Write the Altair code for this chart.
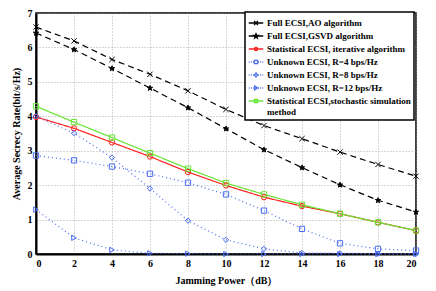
import altair as alt
import pandas as pd

x_vals = [0, 2, 4, 6, 8, 10, 12, 14, 16, 18, 20]
ao = [6.59, 6.19, 5.65, 5.22, 4.74, 4.20, 3.73, 3.35, 2.96, 2.60, 2.26]
gsvd = [6.42, 5.94, 5.39, 4.82, 4.25, 3.64, 3.03, 2.51, 2.01, 1.56, 1.22]
stat_iter = [3.98, 3.65, 3.24, 2.83, 2.38, 1.99, 1.65, 1.39, 1.17, 0.92, 0.68]
r4 = [2.86, 2.72, 2.54, 2.33, 2.07, 1.73, 1.26, 0.73, 0.31, 0.15, 0.10]
r8 = [4.00, 3.51, 2.80, 1.90, 0.97, 0.41, 0.15, 0.03, 0.02, 0.01, 0.00]
r12 = [1.29, 0.47, 0.12, 0.02, 0.01, 0.0, 0.0, 0.0, 0.0, 0.0, 0.0]
stat_sim = [4.29, 3.83, 3.38, 2.93, 2.48, 2.06, 1.73, 1.43, 1.17, 0.92, 0.68]

names = [
    "Full ECSI,AO algorithm",
    "Full ECSI,GSVD algorithm",
    "Statistical ECSI, iterative algorithm",
    "Unknown ECSI, R=4 bps/Hz",
    "Unknown ECSI, R=8 bps/Hz",
    "Unknown ECSI, R=12 bps/Hz",
    "Statistical ECSI,stochastic simulation|method",
]
series = [ao, gsvd, stat_iter, r4, r8, r12, stat_sim]
colors = ["#000000", "#000000", "#ff2020", "#4a6cf0", "#4a6cf0", "#4a6cf0", "#66e633"]
dashes = [[6, 4], [6, 4], [1, 0], [1, 3], [1, 3], [1, 3], [1, 0]]
shapes = [
    "M-1,-1L1,1M-1,1L1,-1",
    "M0,-1L0.25,-0.3L1,-0.3L0.4,0.15L0.6,0.9L0,0.45L-0.6,0.9L-0.4,0.15L-1,-0.3L-0.25,-0.3Z",
    "circle",
    "square",
    "diamond",
    "triangle-right",
    "square",
]
fills = ["transparent", "#000000", "transparent", "transparent", "transparent", "transparent", "transparent"]

dot = "M-1,0H-0.88M-0.7,0H-0.58M-0.4,0H-0.28M0.28,0H0.4M0.58,0H0.7M0.88,0H1"
leg_shapes = [
    "M-1,0H1M-0.27,-0.27L0.27,0.27M-0.27,0.27L0.27,-0.27",
    "M-1,0H1M0,-0.3L0.08,-0.1L0.3,-0.1L0.12,0.05L0.18,0.27L0,0.13L-0.18,0.27L-0.12,0.05L-0.3,-0.1L-0.08,-0.1Z",
    "M-1,0H1M-0.22,0A0.22,0.22 0 1,0 0.22,0A0.22,0.22 0 1,0 -0.22,0",
    dot + "M-0.22,-0.22H0.22V0.22H-0.22Z",
    dot + "M0,-0.28L0.22,0L0,0.28L-0.22,0Z",
    dot + "M-0.18,-0.26L0.24,0L-0.18,0.26Z",
    "M-1,0H1M-0.22,-0.22H0.22V0.22H-0.22Z",
]

rows = []
for n, s in zip(names, series):
    for xv, yv in zip(x_vals, s):
        rows.append({"x": xv, "y": yv, "series": n})
df = pd.DataFrame(rows)

font = "Liberation Serif"
xenc = alt.X("x:Q", scale=alt.Scale(domain=[0, 20], nice=False),
             axis=alt.Axis(values=list(range(0, 21, 2)), title="Jamming Power（dB）"))
yenc = alt.Y("y:Q", scale=alt.Scale(domain=[0, 7], nice=False),
             axis=alt.Axis(values=list(range(0, 8)), title="Average Secrecy Rate(bit/s/Hz)"))
cscale = alt.Scale(domain=names, range=colors)

leg = alt.Legend(
    title=None, orient="none", legendX=209, legendY=-1,
    symbolOpacity=1, symbolSize=210, symbolStrokeWidth=1.3,
    labelFont=font, labelFontWeight="bold", labelFontSize=9,
    labelColor="black", labelLimit=300,
    labelExpr="split(datum.label, '|')",
    rowPadding=-1, padding=3, strokeColor="black", fillColor="white",
    symbolOffset=0, labelOffset=3,
)

lines = alt.Chart(df).mark_line(strokeWidth=1.2).encode(
    x=xenc, y=yenc,
    color=alt.Color("series:N", scale=cscale, legend=None),
    strokeDash=alt.StrokeDash("series:N", scale=alt.Scale(domain=names, range=dashes), legend=None),
    detail="series:N",
)
points = alt.Chart(df).mark_point(size=28, strokeWidth=1, filled=False, opacity=1).encode(
    x=xenc, y=yenc,
    color=alt.Color("series:N", scale=cscale, legend=None),
    shape=alt.Shape("series:N", scale=alt.Scale(domain=names, range=shapes), legend=None),
    fill=alt.Fill("series:N", scale=alt.Scale(domain=names, range=fills), legend=None),
)
legend_layer = alt.Chart(df).mark_point(opacity=0, filled=False).encode(
    x=xenc, y=yenc,
    color=alt.Color("series:N", scale=cscale, legend=leg),
    shape=alt.Shape("series:N", scale=alt.Scale(domain=names, range=leg_shapes), legend=leg),
)

chart = alt.layer(lines, points, legend_layer).resolve_scale(
    shape="independent", color="independent"
).properties(
    width=380, height=241,
    autosize=alt.AutoSizeParams(type="none"),
    padding={"left": 28, "top": 5, "right": 12, "bottom": 36},
).configure_view(stroke="black", strokeWidth=1.5).configure_legend(
    strokeWidth=1.5
).configure_axis(
    labelFont=font, labelFontWeight="bold", labelFontSize=10, labelColor="black",
    titleFont=font, titleFontWeight="bold", titleFontSize=10, titleColor="black",
    domainColor="black", domainWidth=2, ticks=False, labelPadding=4,
    gridColor="#999999", gridDash=[1, 2], gridWidth=0.8,
).configure_axisX(titlePadding=7).configure_axisY(titlePadding=6)

chart.save("out.html", embed_options={"renderer": "svg", "actions": False})
